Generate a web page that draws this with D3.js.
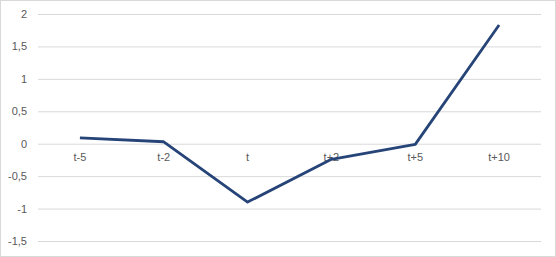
<!DOCTYPE html>
<html>
<head>
<meta charset="utf-8">
<script src="https://cdn.jsdelivr.net/npm/d3@7"></script>
<style>
  body { margin: 0; background: #fff; }
  svg { display: block; }
  .tick text { font-family: "Liberation Sans", Arial, sans-serif; font-size: 11px; fill: #595959; }
</style>
</head>
<body>
<div class="chart"></div>
<script>
var categories = ["t-5", "t-2", "t", "t+2", "t+5", "t+10"];
var values = [0.09, 0.03, -0.9, -0.24, -0.01, 1.83];
var yTicks = [-1.5, -1, -0.5, 0, 0.5, 1, 1.5, 2];

var width = 556, height = 257;
var margin = { top: 14, right: 15, bottom: 16, left: 38 };

var svg = d3.select(".chart").append("svg")
  .attr("width", width)
  .attr("height", height);

// chart border
svg.append("rect")
  .attr("x", 0.5).attr("y", 0.5)
  .attr("width", width - 1).attr("height", height - 1)
  .attr("fill", "#fff")
  .attr("stroke", "#d9d9d9");

var x = d3.scaleBand()
  .domain(categories)
  .range([margin.left, width - margin.right]);

var y = d3.scaleLinear()
  .domain([-1.5, 2])
  .range([height - margin.bottom, margin.top]);

var fmt = function(d) { return String(d).replace(".", ","); };

// gridlines + y labels
var yAxis = svg.append("g")
  .attr("transform", "translate(" + margin.left + ",0)")
  .call(d3.axisLeft(y).tickValues(yTicks).tickFormat(fmt)
    .tickSize(-(width - margin.left - margin.right)).tickPadding(11));
yAxis.select(".domain").remove();
yAxis.selectAll(".tick line").attr("stroke", "#d9d9d9");

// category labels along the zero line
var xAxis = svg.append("g")
  .attr("transform", "translate(0," + y(0) + ")")
  .call(d3.axisBottom(x).tickSize(0).tickPadding(9));
xAxis.select(".domain").remove();

var line = d3.line()
  .x(function(d, i) { return x(categories[i]) + x.bandwidth() / 2; })
  .y(function(d) { return y(d); });

svg.append("path")
  .datum(values)
  .attr("d", line)
  .attr("fill", "none")
  .attr("stroke", "#264478")
  .attr("stroke-width", 2.8)
  .attr("stroke-linejoin", "round");
</script>
</body>
</html>
